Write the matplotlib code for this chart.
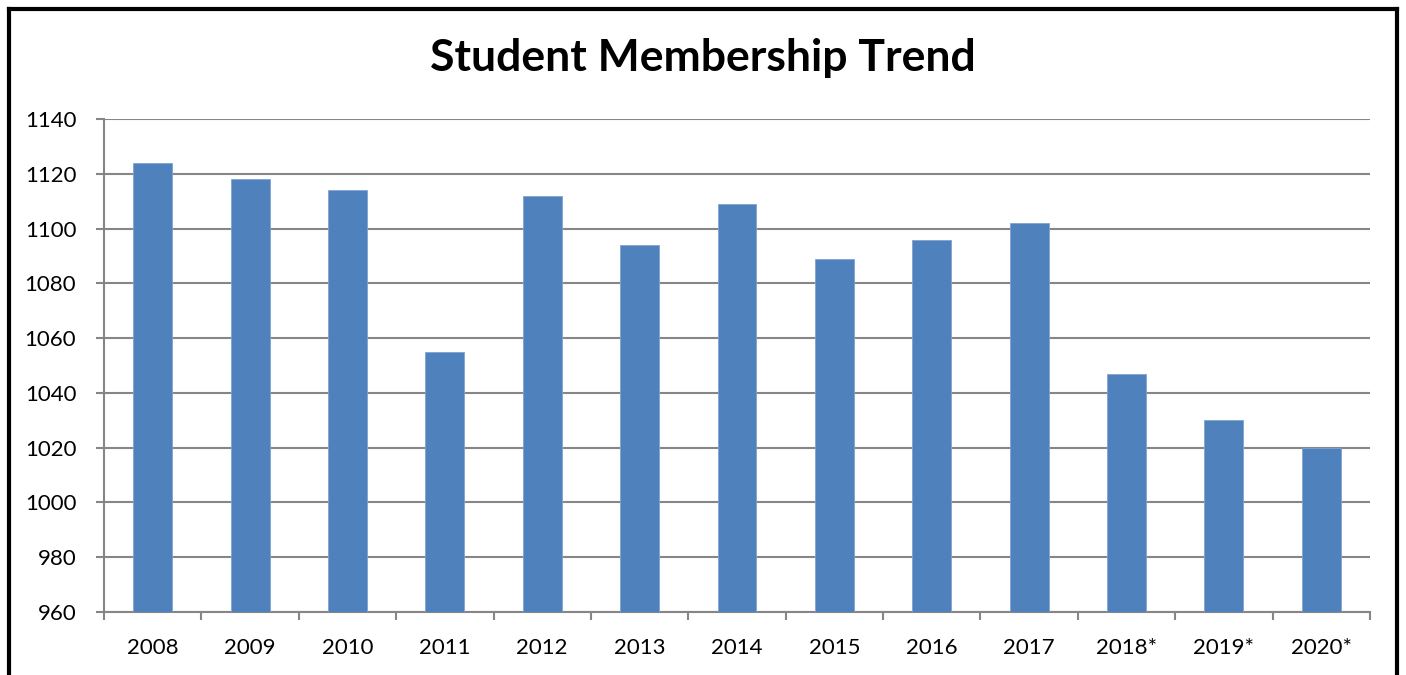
import numpy as np
import matplotlib
matplotlib.use('Agg')
import matplotlib.pyplot as plt
from matplotlib.lines import Line2D

plt.rcParams['font.family'] = ['Lato', 'DejaVu Sans']

# 数据
years = ['2008', '2009', '2010', '2011', '2012', '2013', '2014',
         '2015', '2016', '2017', '2018*', '2019*', '2020*']
members = [1124, 1118, 1114, 1055, 1112, 1094, 1109, 1089, 1096, 1102, 1047, 1030, 1020]
yticks = list(range(960, 1141, 20))

W, H = 1406, 675
fig = plt.figure(figsize=(W / 100, H / 100), dpi=100)
ax = fig.add_axes([104 / W, 1 - 612 / H, (1370 - 104) / W, (612 - 119) / H])

x = np.arange(len(years))
ax.bar(x, [m - 960 for m in members], bottom=960, width=0.4,
       color='#4F81BD', edgecolor='#7FA3D1', linewidth=0.6, zorder=3)

ax.set_xlim(-0.5, len(years) - 0.5)
ax.set_ylim(960, 1140)
ax.set_yticks(yticks)
ax.set_yticklabels([str(v) for v in yticks], fontsize=16)
ax.set_xticks(x)
ax.set_xticklabels(years, fontsize=16)
# 刻度线放在类别之间
ax.set_xticks(np.arange(-0.5, len(years), 1), minor=True)
ax.tick_params(axis='x', which='major', length=0, pad=19)
ax.tick_params(axis='x', which='minor', length=6, width=1.5, color='#868686', direction='out')
ax.tick_params(axis='y', length=6, width=1.5, color='#868686', pad=14)

ax.grid(axis='y', color='#868686', linewidth=1.5, zorder=0)
for s in ['top', 'right']:
    ax.spines[s].set_visible(False)
for s in ['left', 'bottom']:
    ax.spines[s].set_color('#868686')
    ax.spines[s].set_linewidth(1.5)

fig.text(703 / W, 1 - 58 / H, 'Student Membership Trend', ha='center', va='center',
         fontsize=32, fontweight='bold')

# 外框
lw = 3
fig.add_artist(Line2D([8.5 / W, 8.5 / W], [0, 1 - 8.5 / H], color='black', linewidth=lw, transform=fig.transFigure))
fig.add_artist(Line2D([8.5 / W, 1396.5 / W], [1 - 8.5 / H, 1 - 8.5 / H], color='black', linewidth=lw, transform=fig.transFigure))
fig.add_artist(Line2D([1396.5 / W, 1396.5 / W], [0, 1 - 8.5 / H], color='black', linewidth=lw, transform=fig.transFigure))

fig.savefig('out.png', dpi=100, facecolor='white')
